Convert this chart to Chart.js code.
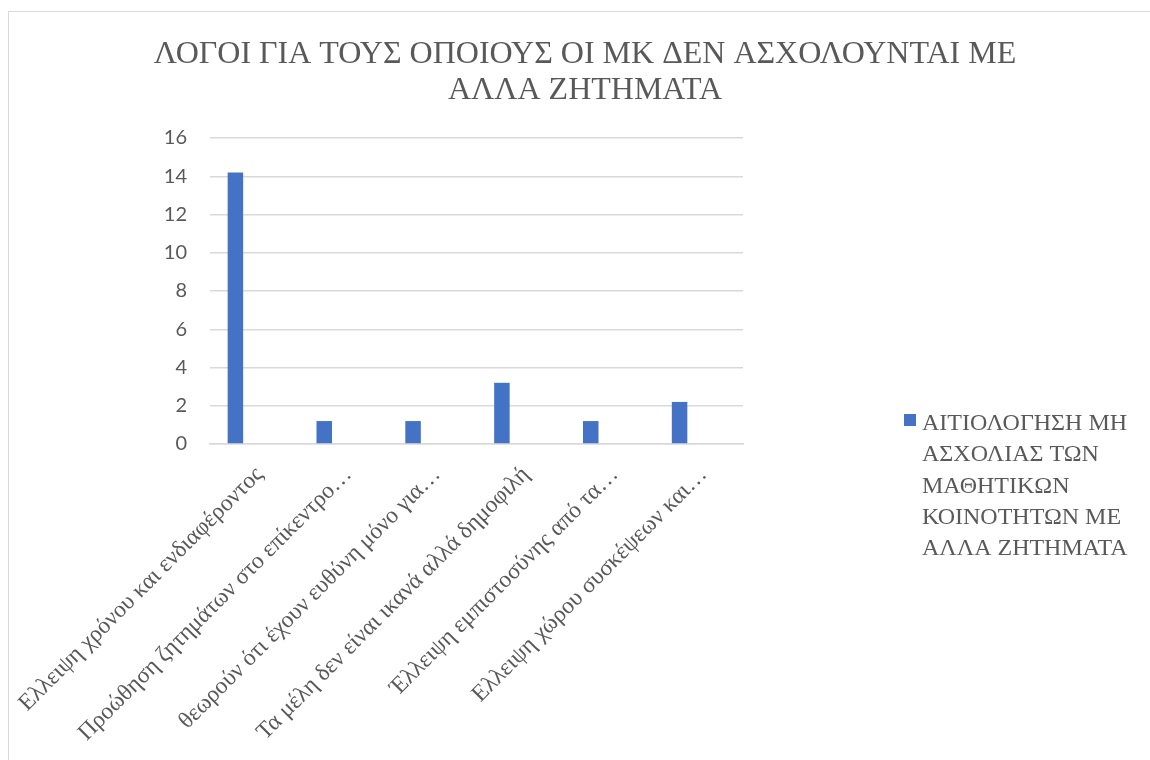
<!DOCTYPE html>
<html>
<head>
<meta charset="utf-8">
<script src="https://cdn.jsdelivr.net/npm/chart.js@4"></script>
<style>
  html, body { margin: 0; padding: 0; background: #ffffff; overflow: hidden; width: 1150px; height: 760px; }
  #frame { position: absolute; left: 8px; top: 11px; width: 2000px; height: 2000px; border-left: 1px solid #d9d9d9; border-top: 1px solid #d9d9d9; }
  #wrap { position: absolute; left: 0; top: 0; width: 1170px; height: 760px; }
  .pre { position: absolute; left: -9999px; top: 0; }
</style>
</head>
<body>
<div id="frame"></div>
<span class="pre" style="font-family:'Liberation Serif'">ΑΒΓ abc</span>
<span class="pre" style="font-family:'Lato'">0123</span>
<div id="wrap"><canvas id="c" width="1170" height="760"></canvas></div>
<script>
const titleLines = ["ΛΟΓΟΙ ΓΙΑ ΤΟΥΣ ΟΠΟΙΟΥΣ ΟΙ ΜΚ ΔΕΝ ΑΣΧΟΛΟΥΝΤΑΙ ΜΕ", "ΑΛΛΑ ΖΗΤΗΜΑΤΑ"];
const categories = [
  "Ελλειψη χρόνου και ενδιαφέροντος",
  "Προώθηση ζητημάτων στο επίκεντρο…",
  "θεωρούν ότι έχουν ευθύνη μόνο για…",
  "Τα μέλη δεν είναι ικανά αλλά δημοφιλή",
  "Έλλειψη εμπιστοσύνης από τα…",
  "Ελλειψη χώρου συσκέψεων και…"
];
const seriesName = "ΑΙΤΙΟΛΟΓΗΣΗ ΜΗ ΑΣΧΟΛΙΑΣ ΤΩΝ ΜΑΘΗΤΙΚΩΝ ΚΟΙΝΟΤΗΤΩΝ ΜΕ ΑΛΛΑ ΖΗΤΗΜΑΤΑ";
const seriesValues = [14.2, 1.2, 1.2, 3.2, 1.2, 2.2];
const emptySeries = [null, null, null, null, null, null];
const yTicks = [0, 2, 4, 6, 8, 10, 12, 14, 16];

const GREY = '#595959';
const BLUE = '#4472c4';
const SERIF = "'Liberation Serif', 'Times New Roman', serif";

const textPlugin = {
  id: 'titleAndLegend',
  afterDraw(chart) {
    const ctx = chart.ctx;
    ctx.save();
    // title
    ctx.fillStyle = GREY;
    ctx.textAlign = 'center';
    ctx.textBaseline = 'alphabetic';
    ctx.font = "32px " + SERIF;
    titleLines.forEach((l, i) => ctx.fillText(l, 585, 63 + i * 36));
    // legend
    ctx.fillStyle = BLUE;
    ctx.fillRect(904, 414, 12, 12);
    ctx.font = "24px " + SERIF;
    ctx.fillStyle = GREY;
    ctx.textAlign = 'left';
    const words = seriesName.split(' ');
    const lines = [];
    let cur = '';
    for (const w of words) {
      const t = cur ? cur + ' ' + w : w;
      if (ctx.measureText(t).width > 236 && cur) { lines.push(cur); cur = w; } else { cur = t; }
    }
    if (cur) lines.push(cur);
    lines.forEach((l, i) => ctx.fillText(l, 922, 430 + i * 31.3));
    ctx.restore();
  }
};

function build() {
  new Chart(document.getElementById('c'), {
    type: 'bar',
    data: {
      labels: categories,
      datasets: [
        { label: seriesName, data: seriesValues, backgroundColor: BLUE, categoryPercentage: 0.856, barPercentage: 0.408 },
        { label: '', data: emptySeries, backgroundColor: BLUE, categoryPercentage: 0.856, barPercentage: 0.408 }
      ]
    },
    options: {
      responsive: false,
      animation: false,
      layout: { padding: { top: 138, left: 150, right: 427, bottom: 0 } },
      plugins: {
        legend: { display: false },
        tooltip: { enabled: false },
        title: { display: false }
      },
      scales: {
        y: {
          min: 0, max: 16,
          afterBuildTicks(scale) { scale.ticks = yTicks.map(v => ({ value: v })); },
          afterFit(scale) { scale.width = 60; scale.paddingTop = 0; scale.paddingBottom = 0; },
          grid: { color: '#d9d9d9', lineWidth: 1.5, drawTicks: false },
          border: { display: false },
          ticks: { color: GREY, padding: 23, font: { family: "Lato, 'Liberation Sans', sans-serif", size: 20 } }
        },
        x: {
          afterFit(scale) { scale.height = 316; scale.paddingLeft = 0; scale.paddingRight = 0; },
          grid: { display: false, drawTicks: false },
          border: { display: true, color: '#d9d9d9', width: 1.5 },
          ticks: {
            color: GREY, autoSkip: false, minRotation: 45, maxRotation: 45, padding: 17, labelOffset: 5,
            font: { family: SERIF, size: 23.5 }
          }
        }
      }
    },
    plugins: [textPlugin]
  });
}

Promise.all([
  document.fonts.load("32px 'Liberation Serif'", "ΑΒΓ"),
  document.fonts.load("23px 'Liberation Serif'", "αβγ"),
  document.fonts.load("20px Lato", "0123")
]).then(build, build);
</script>
</body>
</html>
